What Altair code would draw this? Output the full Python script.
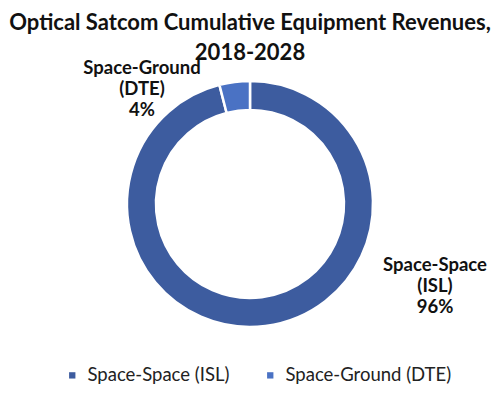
import altair as alt
import pandas as pd

categories = ["Space-Space (ISL)", "Space-Ground (DTE)"]
shares = [96, 4]
colors = ["#3D5C9F", "#4A72C4"]

df = pd.DataFrame({"category": categories, "share": shares, "order": [0, 1]})

color_scale = alt.Scale(domain=categories, range=colors)

base = alt.Chart(df)

arc = base.mark_arc(innerRadius=94, outerRadius=123, stroke="white", strokeWidth=2.5).encode(
    theta=alt.Theta("share:Q", stack=True),
    order=alt.Order("order:Q"),
    color=alt.Color(
        "category:N",
        scale=color_scale,
        sort=categories,
        legend=alt.Legend(
            title=None,
            orient="none",
            legendX=55,
            legendY=306,
            direction="horizontal",
            symbolType="square",
            symbolSize=40,
            labelFont="Lato",
            labelFontSize=18.5,
            labelColor="#222222",
            labelLimit=400,
            labelOffset=6,
            columnPadding=31,
            symbolStrokeWidth=0,
        ),
    ),
)

def label_layer(cat, xpos, ypos):
    return (
        base.transform_filter(alt.datum.category == cat)
        .transform_calculate(
            label="replace(datum.category, ' (', '\\n(') + '\\n' + datum.share + '%'"
        )
        .mark_text(
            font="Lato", fontSize=18.5, fontWeight="bold", color="#111111",
            lineBreak="\n", lineHeight=21, align="center", baseline="top",
        )
        .encode(text="label:N", x=alt.value(xpos), y=alt.value(ypos))
    )

labels_isl = label_layer("Space-Space (ISL)", 427, 196)
labels_dte = label_layer("Space-Ground (DTE)", 134, -1)

chart = (
    alt.layer(arc, labels_isl, labels_dte)
    .properties(
        width=484,
        height=288,
        padding={"top": 4, "left": 0, "right": 0, "bottom": 0},
        title=alt.TitleParams(
            text=["Optical Satcom Cumulative Equipment Revenues,", "2018-2028"],
            font="Lato",
            fontSize=22,
            fontWeight="bold",
            color="#111111",
            anchor="middle",
            lineHeight=30,
            offset=-6,
        ),
    )
    .configure_view(stroke=None)
)

chart.save("out.html", embed_options={"renderer": "svg", "actions": False})
